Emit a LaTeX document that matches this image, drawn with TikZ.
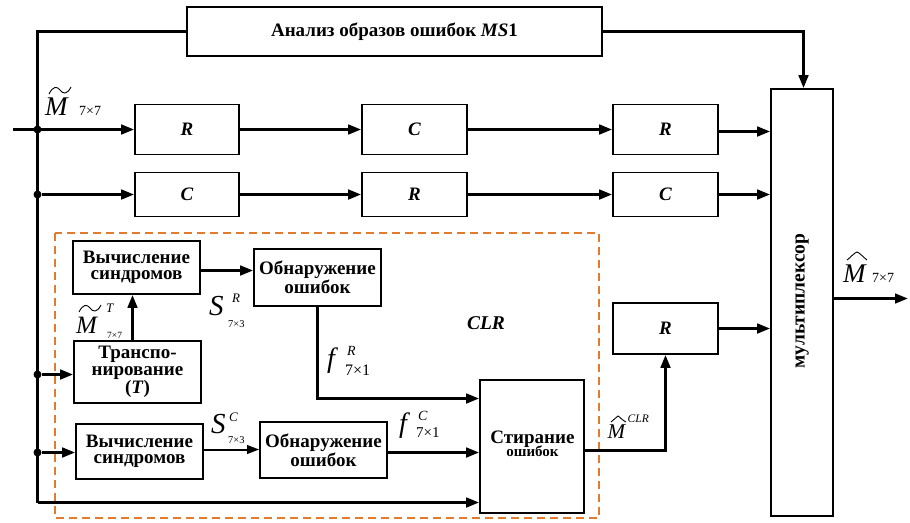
\documentclass[tikz,border=0pt]{standalone}
\usepackage{fontspec}
\setmainfont{Liberation Serif}
\usetikzlibrary{arrows.meta,calc}
\definecolor{clrorange}{HTML}{E37B2E}
\tikzset{
  box/.style={draw, line width=1.6pt, inner sep=0pt, align=center, font=\fontsize{19}{16.5}\selectfont\bfseries},
  arr/.style={line width=2.9pt, -{Triangle[length=13pt,width=9.5pt]}},
  thinarr/.style={line width=2pt, -{Triangle[length=12pt,width=8.5pt]}},
  wire/.style={line width=2.9pt},
  dot/.style={circle, fill, inner sep=0pt, minimum size=8pt},
  lbl/.style={inner sep=0pt, anchor=base west},
  accent/.style={line width=0.9pt},
}
% main text, sup dx, sup raise, sup text, sub dx, sub lower, sub text
\newcommand{\lab}[7]{\makebox[0pt][l]{#1}\makebox[0pt][l]{\hspace{#2}\raisebox{#3}{#4}}\hspace{#5}\raisebox{#6}{#7}}
\newcommand{\fsz}[1]{\fontsize{#1}{#1}\selectfont}
\begin{document}
\begin{tikzpicture}[x=1pt,y=-1pt]
\useasboundingbox (0,0) rectangle (910,522);
% CLR dashed frame
\draw[clrorange, line width=1.4pt, dash pattern=on 8pt off 5pt] (55,233) rectangle (599,518);
% boxes
\node[box, minimum width=415pt, minimum height=49pt] (ana) at (394.5,31.5) {Анализ образов ошибок \textit{MS}1};
\node[box, minimum width=104pt, minimum height=50pt] (r1) at (187,129.5) {\textit{R}};
\node[box, minimum width=105pt, minimum height=50pt] (c1) at (414.5,129.5) {\textit{C}};
\node[box, minimum width=105pt, minimum height=50pt] (r2) at (665.5,129.5) {\textit{R}};
\node[box, minimum width=104pt, minimum height=44pt] (c2) at (187,194.5) {\textit{C}};
\node[box, minimum width=105pt, minimum height=44pt] (rb) at (414.5,194.5) {\textit{R}};
\node[box, minimum width=105pt, minimum height=44pt] (c3) at (665.5,194.5) {\textit{C}};
\node[box, minimum width=62pt, minimum height=427pt] (mux) at (802,302.5) {};
\node[font=\fontsize{19.5}{19}\selectfont\bfseries, rotate=90] (muxt) at (mux.center |- 0,301) {мультиплексор};
\node[box, minimum width=127pt, minimum height=53pt] (vs1) at (136.5,267.5) {Вычисление\\синдромов};
\node[box, minimum width=127pt, minimum height=57pt] (ob1) at (317.5,277.5) {Обнаружение\\ошибок};
\node[box, minimum width=127pt, minimum height=62pt] (tr) at (137.5,372) {Транспо-\\нирование\\(\textit{T})};
\node[box, minimum width=127pt, minimum height=55pt] (vs2) at (139.5,451.5) {Вычисление\\синдромов};
\node[box, minimum width=127pt, minimum height=56pt] (ob2) at (323.5,450) {Обнаружение\\ошибок};
\node[box, minimum width=104pt, minimum height=133pt] (st) at (532,446.5) {};
\node[font=\fontsize{19}{16}\selectfont\bfseries, align=center, inner sep=0pt] (stt) at (532.5,444) {Стирание\\[-2.5pt]{\fontsize{15}{15}\selectfont ошибок}};
\node[box, minimum width=105pt, minimum height=51pt] (r3) at (665.5,328.5) {\textit{R}};
\node[font=\fontsize{19.5}{19}\selectfont\bfseries\itshape] (clr) at (486,323) {CLR};
% coordinates
\coordinate (in) at (13,129.5);
\coordinate (bustop) at (37.5,31.5);
\coordinate (busbot) at (37.5,502.5);
\coordinate (out) at (908,298.5);
\coordinate (fRy) at (0,398.5);
\coordinate (corner) at (803.5,31.5);
% dots
\node[dot] (d1) at (37.5,129.5) {};
\node[dot] (d2) at (37.5,194.5) {};
\node[dot] (d3) at (37.5,374.5) {};
\node[dot] (d4) at (37.5,452.5) {};
% bus
\draw[wire] (ana.west) -- (bustop) -- (busbot);
\draw[arr] (busbot) -- (busbot -| st.west);
% row 1
\draw[arr] (in) -- (r1.west);
\draw[arr] (r1.east) -- (c1.west);
\draw[arr] (c1.east) -- (r2.west);
\draw[arr] (r2.east |- 0,131.5) -- (mux.west |- 0,131.5);
% row 2
\draw[arr] (d2) -- (c2.west);
\draw[arr] (c2.east) -- (rb.west);
\draw[arr] (rb.east) -- (c3.west);
\draw[arr] (c3.east) -- (c3.east -| mux.west);
% top to mux
\draw[arr] (ana.east) -- (corner) -- (corner |- mux.north);
% CLR internals
\draw[arr] (d3) -- (d3 -| tr.west);
\draw[arr] (tr.north -| 132.5,0) -- (vs1.south -| 132.5,0);
\draw[arr] (vs1.east |- 0,270.5) -- (ob1.west |- 0,270.5);
\draw[arr] (ob1.south) |- (st.west |- fRy);
\draw[arr] (d4) -- (d4 -| vs2.west);
\draw[thinarr] (vs2.east |- 0,449.5) -- (ob2.west |- 0,449.5);
\draw[arr] (ob2.east |- 0,452.5) -- (st.west |- 0,452.5);
\draw[wire] (st.east |- 0,450.5) -- (r3.south |- 0,450.5);
\draw[arr] (r3.south |- 0,451.9) -- (r3.south);
\draw[arr] (r3.east) -- (r3.east -| mux.west);
% output
\draw[arr] (mux.east |- out) -- (out);
% labels
\node[lbl] (lm) at (45,115) {\makebox[0pt][l]{\fsz{27}\itshape M}\hspace{34pt}{\fsz{14}7×7}};
\draw[accent] (49,94) .. controls (53,86) and (57,86) .. (60,90) .. controls (63,94) and (67,95) .. (71,87);
\node[lbl] (lmt) at (76,333) {\lab{\fsz{25}\itshape M}{30pt}{21pt}{\fsz{13}\itshape T}{31pt}{-5pt}{\fsz{9.5}7×7}};
\draw[accent] (79,312) .. controls (83,304) and (87,304) .. (90,308) .. controls (93,312) and (97,313) .. (101,305);
\node[lbl] (sr) at (209,315) {\lab{\fsz{29}\itshape S}{23pt}{13pt}{\fsz{13}\itshape R}{19pt}{-12pt}{\fsz{10.5}7×3}};
\node[lbl] (sc) at (211,433) {\lab{\fsz{29}\itshape S}{18pt}{12pt}{\fsz{13}\itshape C}{17pt}{-10pt}{\fsz{10.5}7×3}};
\node[lbl] (fr) at (327,367) {\lab{\fsz{28}\itshape f}{20pt}{12pt}{\fsz{14}\itshape R}{18pt}{-8pt}{\fsz{16}7×1}};
\node[lbl] (fc) at (399,432) {\lab{\fsz{28}\itshape f}{19pt}{12pt}{\fsz{14}\itshape C}{17pt}{-5pt}{\fsz{15}7×1}};
\node[lbl] (mclr) at (607,438) {\lab{\fsz{21}\itshape M}{20pt}{16pt}{\fsz{11.5}\itshape CLR}{0pt}{0pt}{}};
\draw[accent] (611,422) .. controls (614,420) and (616,417) .. (618,416) .. controls (620,417) and (622,420) .. (626,422);
\node[lbl] (mo) at (843,282) {\makebox[0pt][l]{\fsz{27}\itshape M}\hspace{29pt}{\fsz{14}7×7}};
\draw[accent] (847,260) .. controls (851,257) and (854,253) .. (857,252) .. controls (860,253) and (863,257) .. (867,260);
\end{tikzpicture}
\end{document}
